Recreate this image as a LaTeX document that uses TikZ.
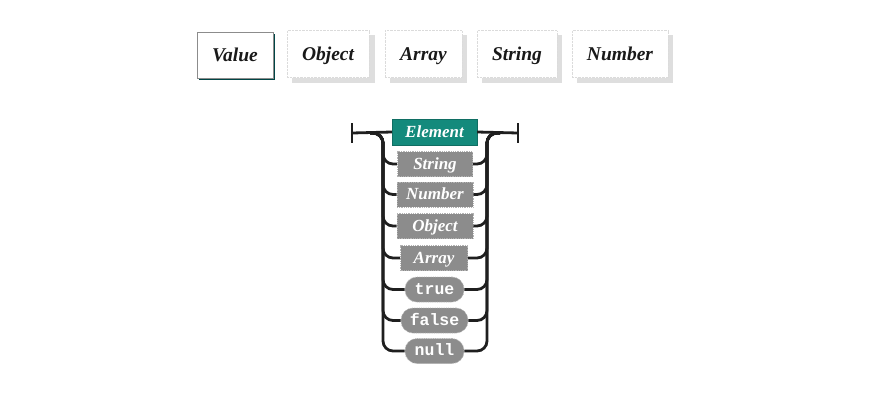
\documentclass[tikz,border=0pt]{standalone}
\usepackage{fontspec}
\setmainfont{Liberation Serif}
\setmonofont{Liberation Mono}
\definecolor{elemteal}{RGB}{20,138,124}
\begin{document}
\begin{tikzpicture}[x=1pt,y=-1pt,
  btn/.style={draw=black!14, densely dotted, fill=white, minimum height=47, inner sep=0,
    text height=12.5, text depth=0,
    font=\fontsize{19.5}{19.5}\selectfont\bfseries\itshape, text=black!90},
  btnshadow/.style={fill=black!13, draw=none},
  sel/.style={draw=black!45, fill=white, minimum height=46, inner sep=0,
    text height=12.5, text depth=0,
    font=\fontsize{19.5}{19.5}\selectfont\bfseries\itshape, text=black!90},
  elem/.style={fill=elemteal, draw=elemteal!80!black, minimum height=26, inner sep=0,
    text height=10.5, text depth=0,
    font=\fontsize{17}{17}\selectfont\bfseries\itshape, text=white},
  nt/.style={fill=black!45, draw=black!30, densely dotted, line width=0.8pt, minimum height=25, inner sep=0,
    text height=10.5, text depth=0,
    font=\fontsize{17}{17}\selectfont\bfseries\itshape, text=white},
  term/.style={nt, rounded corners=12pt, text height=9, text depth=0,
    font=\fontsize{16.5}{16.5}\selectfont\ttfamily\bfseries},
  rail/.style={line width=2.8pt, draw=black!88, rounded corners=10pt},
  bar/.style={line width=2.8pt, draw=black!88}]
\useasboundingbox (0,0) rectangle (880,400);
\fill[white] (0,0) rectangle (880,400);
% top buttons
\fill[btnshadow] (292,35) rectangle (375,83);
\fill[btnshadow] (390,35) rectangle (467,83);
\fill[btnshadow] (482,35) rectangle (562,83);
\fill[btnshadow] (577,35) rectangle (673,83);
\fill[teal!55!black] (199,34) rectangle (275,80);
\node[sel, minimum width=76] (value) at (235,55) {Value};
\node[btn, minimum width=82] (object) at (328,54) {Object};
\node[btn, minimum width=77] (array) at (423.5,54) {Array};
\node[btn, minimum width=80] (string) at (517,54) {String};
\node[btn, minimum width=96] (number) at (620,54) {Number};
% railroad
\node[elem, minimum width=85] (Element) at (434.5,132) {Element};
\node[nt, minimum width=75] (String) at (435,164) {String};
\node[nt, minimum width=76] (Number) at (435,194.5) {Number};
\node[nt, minimum width=76] (Object) at (435,226) {Object};
\node[nt, minimum width=67] (Array) at (434,258) {Array};
\node[term, minimum width=59] (true) at (434.5,289.5) {true};
\node[term, minimum width=67] (false) at (434.5,320.5) {false};
\node[term, minimum width=59] (null) at (434.5,351) {null};
\coordinate (lbar) at (352,133);
\coordinate (rbar) at (518,133);
\coordinate (lstart) at (370,133);
\coordinate (lrail) at (383,133);
\coordinate (rrail) at (487,133);
\coordinate (rend) at (500,133);
\draw[bar] (352,123) -- (352,143);
\draw[bar] (518,123) -- (518,143);
\draw[bar] (lbar) -- (Element.west);
\draw[bar] (Element.east) -- (rbar);
\foreach \n in {String,Number,Object,Array,true,false,null}{
  \draw[rail] (lstart) -| (lrail |- \n.west) -- (\n.west);
  \draw[rail] (\n.east) -| (rrail) -- (rend);
}
\end{tikzpicture}
\end{document}
